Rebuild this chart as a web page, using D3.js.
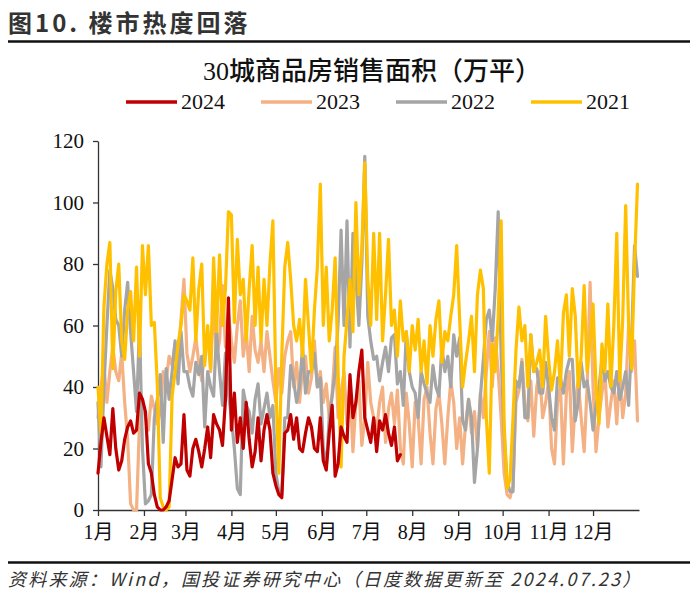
<!DOCTYPE html>
<html><head><meta charset="utf-8">
<script src="https://cdn.jsdelivr.net/npm/d3@7"></script>
<style>
html,body{margin:0;padding:0;background:#fff;}
svg{display:block;}
</style></head>
<body>
<svg id="chart" width="700" height="606"></svg>
<script>
// ---- data ----
const figureTitle = "图10. 楼市热度回落";
const chartTitle = "30城商品房销售面积（万平）";
const sourceText = "资料来源：Wind，国投证券研究中心（日度数据更新至 2024.07.23）";
const monthLabels = ["1月","2月","3月","4月","5月","6月","7月","8月","9月","10月","11月","12月"];
const monthStartDay = [0,31,59,90,120,151,181,212,243,273,304,334];
const yTickValues = [0,20,40,60,80,100,120];
const seriesNames = ["2024","2023","2022","2021"];
const sampleStepDays = 2; // each value below is one reading every 2 days, starting 1 Jan

const v2024 = [12,22,30,24,18,33,20,13,16,23,27,29,25,26,38,36,
  32,15,12,5,1,0,0,1,3,10,17,14,15,31,
  13,11,20,23,19,14,20,27,17,31,28,26,21,36,69,
  26,38,22,30,20,35,23,14,19,30,16,26,31,26,12,
  8,5,4,25,26,31,23,30,20,19,25,30,27,20,19,30,
  16,13,25,34,11,15,27,24,22,44,30,35,45,52,30,
  26,22,30,19,29,26,31,25,21,27,16,18];

const v2023 = [30,40,47,35,45,53,45,42,51,35,23,2,0,0,28,36,
  30,26,37,33,28,32,45,42,50,47,54,50,62,75,
  51,45,50,56,48,42,52,58,45,68,50,55,73,53,64,
  55,48,60,68,50,58,45,63,52,48,55,45,58,50,42,
  35,46,38,50,55,58,40,48,35,46,50,38,43,55,40,45,
  35,41,30,38,53,30,38,45,28,40,19,35,42,21,30,
  48,35,30,26,35,40,22,33,38,28,39,20,15,38,28,
  14,35,30,15,36,40,25,15,33,38,28,15,30,42,35,20,
  30,15,28,36,25,32,20,38,30,45,58,40,56,45,30,
  12,5,4,8,35,39,49,35,29,42,24,40,45,30,35,
  42,20,15,35,40,15,38,45,19,35,42,30,19,40,74,
  40,19,30,38,45,27,35,42,28,45,30,38,60,45,55,29];

const v2022 = [35,14,40,60,78,72,62,60,50,65,74,58,45,32,60,20,
  2,3,5,30,36,44,22,46,36,45,55,41,58,45,
  45,40,37,48,44,50,27,45,40,37,58,45,34,51,38,
  30,20,7,5,39,34,32,25,36,41,28,33,38,30,34,
  12,6,5,30,30,47,42,35,40,53,38,45,45,51,40,43,
  20,14,30,37,45,61,91,60,94,53,90,76,60,80,115,
  63,55,49,50,42,48,53,45,56,57,41,45,34,58,45,
  40,38,30,45,41,38,35,47,40,37,53,45,50,40,57,50,
  56,29,26,36,30,9,20,37,49,62,65,55,72,97,50,
  25,9,6,6,42,40,48,30,30,57,45,46,38,38,48,
  40,30,26,43,43,38,45,49,49,29,35,48,40,42,35,
  26,34,40,49,42,45,40,38,45,36,40,45,34,55,86,76];

const v2021 = [40,25,66,80,87,46,71,80,55,49,65,71,55,79,50,86,
  70,86,60,61,41,4,1,0,1,37,45,54,60,70,
  68,65,82,55,72,80,47,60,46,82,58,83,60,72,97,
  96,61,88,70,75,55,72,86,60,79,55,75,60,80,94,
  40,12,50,79,87,75,60,55,62,50,75,60,45,65,79,106,
  60,79,55,65,82,45,14,50,62,75,58,100,70,85,113,
  75,60,90,62,90,55,70,88,60,65,50,68,55,58,45,
  60,52,62,45,55,41,60,50,62,68,48,58,55,63,70,86,
  62,40,48,55,63,45,70,78,72,30,12,54,45,63,94,
  28,7,10,30,52,66,55,60,40,57,45,48,52,40,63,
  49,39,45,55,40,64,70,50,72,63,40,50,73,45,55,
  67,40,28,54,45,67,40,60,90,42,62,99,60,46,80,106];

const seriesValues = {"2024": v2024, "2023": v2023, "2022": v2022, "2021": v2021};
const seriesColors = {"2024": "#C00000", "2023": "#F4B183", "2022": "#A5A5A5", "2021": "#FFC000"};
const drawOrder = ["2023","2022","2021","2024"];

// ---- layout ----
const svg = d3.select("#chart");
const W = 700, H = 606;
const plot = {left: 98, right: 639, top: 141, bottom: 510};
const serif = "'Liberation Serif','Times New Roman','Noto Sans CJK SC',serif";
const cjk = "'Liberation Serif','Noto Sans CJK SC',sans-serif";

svg.append("rect").attr("width", W).attr("height", H).attr("fill", "#fff");

// figure title + rules
svg.append("text").attr("x", 8).attr("y", 32)
  .style("font-family", "'Noto Sans CJK SC',sans-serif").style("font-size", "24px")
  .style("font-weight", "bold").style("letter-spacing", "3px").attr("fill", "#333").text(figureTitle);
svg.append("line").attr("x1", 8).attr("x2", 690).attr("y1", 41.5).attr("y2", 41.5)
  .attr("stroke", "#111").attr("stroke-width", 2.5);
svg.append("line").attr("x1", 8).attr("x2", 690).attr("y1", 562.5).attr("y2", 562.5)
  .attr("stroke", "#111").attr("stroke-width", 2.5);

// chart title
svg.append("text").attr("x", 372).attr("y", 80).attr("text-anchor", "middle")
  .style("font-family", cjk).style("font-size", "26px").style("font-weight", "500")
  .attr("fill", "#111").text(chartTitle);

// legend
const legendG = svg.append("g");
seriesNames.forEach((name, i) => {
  const x0 = 126 + i * 135;
  legendG.append("line").attr("x1", x0).attr("x2", x0 + 51).attr("y1", 102).attr("y2", 102)
    .attr("stroke", seriesColors[name]).attr("stroke-width", 3.5);
  legendG.append("text").attr("x", x0 + 55).attr("y", 109)
    .style("font-family", serif).style("font-size", "22px").attr("fill", "#111").text(name);
});

// scales
const x = d3.scaleLinear().domain([0, 365]).range([plot.left, plot.right]);
const y = d3.scaleLinear().domain([0, 120]).range([plot.bottom, plot.top]);

// axes
const yAxis = svg.append("g").attr("transform", `translate(${plot.left},0)`)
  .call(d3.axisLeft(y).tickValues(yTickValues).tickSize(5).tickPadding(9).tickSizeOuter(0));
yAxis.selectAll("text").style("font-family", serif).style("font-size", "21px").attr("fill", "#111");
yAxis.selectAll("line,path").attr("stroke", "#333").attr("stroke-width", 1.3);

const xAxis = svg.append("g").attr("transform", `translate(0,${plot.bottom})`)
  .call(d3.axisBottom(x).tickValues(monthStartDay).tickFormat((d, i) => monthLabels[i])
    .tickSize(6).tickPadding(9).tickSizeOuter(0));
xAxis.selectAll("text").style("font-family", cjk).style("font-size", "20px").attr("fill", "#111");
xAxis.selectAll("line,path").attr("stroke", "#333").attr("stroke-width", 1.3);

// lines
const line = d3.line()
  .x((d, i) => x(i * sampleStepDays))
  .y(d => y(d))
  .curve(d3.curveLinear);

drawOrder.forEach(name => {
  svg.append("path").datum(seriesValues[name])
    .attr("d", line).attr("fill", "none")
    .attr("stroke", seriesColors[name]).attr("stroke-width", 3.2)
    .attr("stroke-linejoin", "round").attr("stroke-linecap", "round");
});

// source
svg.append("text").attr("x", 8).attr("y", 586)
  .style("font-family", "'Noto Sans CJK SC',sans-serif").style("font-size", "18px")
  .style("font-style", "italic").style("letter-spacing", "2.2px").attr("fill", "#333").text(sourceText);
</script>
</body></html>
